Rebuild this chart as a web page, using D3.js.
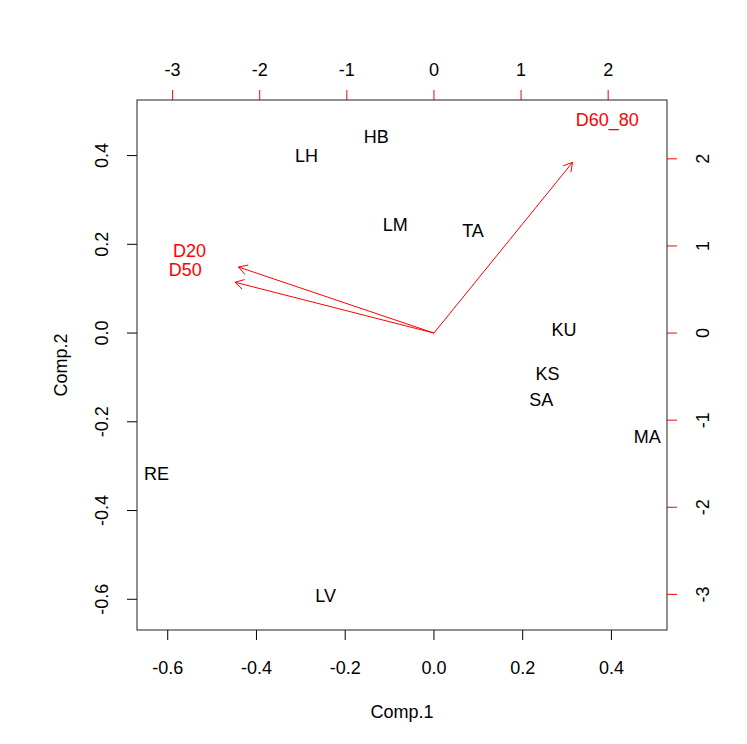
<!DOCTYPE html>
<html>
<head>
<meta charset="utf-8">
<script src="https://cdn.jsdelivr.net/npm/d3@7"></script>
<style>
  body { margin: 0; background: #fff; }
  svg text { font-family: "Liberation Sans", Arial, sans-serif; }
</style>
</head>
<body>
<div id="chart"></div>
<script>
// PCA scores (observations)
const obsNames = ['HB', 'LH', 'LM', 'TA', 'KU', 'KS', 'SA', 'MA', 'RE', 'LV'];
const comp1 = [-0.130, -0.287, -0.087, 0.088, 0.293, 0.256, 0.242, 0.481, -0.625, -0.244];
const comp2 = [0.444, 0.400, 0.244, 0.231, 0.008, -0.092, -0.150, -0.233, -0.317, -0.592];

// loadings (variables)
const varNames = ['D20', 'D50', 'D60_80'];
const load1 = [-2.805, -2.854, 1.989];
const load2 = [0.948, 0.729, 2.45];

// tick values
const scoreTicks = [-0.6, -0.4, -0.2, 0.0, 0.2, 0.4];
const loadTicks = [-3, -2, -1, 0, 1, 2];

const config = {
  width: 747, height: 744,
  margin: {top: 100, right: 80, bottom: 114, left: 137},
  fontSize: 18,
  tickLen: 10,
  arrowLen: 10
};

const svg = d3.select('#chart').append('svg')
  .attr('width', config.width)
  .attr('height', config.height);

const w = config.width - config.margin.left - config.margin.right;
const h = config.height - config.margin.top - config.margin.bottom;

// same limits for both axes, like R's biplot (unsigned range + 4% expansion)
const unsignedRange = arr => [-Math.abs(d3.min(arr)), Math.abs(d3.max(arr))];
const r1 = unsignedRange(comp1), r2 = unsignedRange(comp2);
const lim = [Math.min(r1[0], r2[0]), Math.max(r1[1], r2[1])];
const ry1 = unsignedRange(load1), ry2 = unsignedRange(load2);
const ratio = d3.max([ry1[0] / lim[0], ry1[1] / lim[1], ry2[0] / lim[0], ry2[1] / lim[1]]);
const pad = (lim[1] - lim[0]) * 0.04;
const dom = [lim[0] - pad, lim[1] + pad];

const x = d3.scaleLinear().domain(dom).range([0, w]);
const y = d3.scaleLinear().domain(dom).range([h, 0]);
const xl = d3.scaleLinear().domain(dom.map(d => d * ratio)).range([0, w]);
const yl = d3.scaleLinear().domain(dom.map(d => d * ratio)).range([h, 0]);

const chart = svg.append('g')
  .attr('transform', `translate(${config.margin.left},${config.margin.top})`);

const fmt1 = d => d.toFixed(1);
const fmt0 = d => String(d);

// bottom axis
const bottomAxis = chart.append('g').attr('transform', `translate(0,${h})`);
bottomAxis.selectAll('line').data(scoreTicks).join('line')
  .attr('x1', d => x(d)).attr('x2', d => x(d))
  .attr('y1', 0).attr('y2', config.tickLen)
  .attr('stroke', '#000');
bottomAxis.selectAll('text').data(scoreTicks).join('text')
  .attr('x', d => x(d)).attr('y', 38).attr('dy', '0.36em')
  .attr('text-anchor', 'middle').attr('font-size', config.fontSize)
  .attr('fill', '#000')
  .text(fmt1);

// left axis
const leftAxis = chart.append('g');
leftAxis.selectAll('line').data(scoreTicks).join('line')
  .attr('y1', d => y(d)).attr('y2', d => y(d))
  .attr('x1', 0).attr('x2', -config.tickLen)
  .attr('stroke', '#000');
leftAxis.selectAll('text').data(scoreTicks).join('text')
  .attr('transform', d => `translate(-35,${y(d)}) rotate(-90)`)
  .attr('dy', '0.36em')
  .attr('text-anchor', 'middle').attr('font-size', config.fontSize)
  .attr('fill', '#000')
  .text(fmt1);

// top axis (loadings)
const topAxis = chart.append('g');
topAxis.selectAll('line').data(loadTicks).join('line')
  .attr('x1', d => xl(d)).attr('x2', d => xl(d))
  .attr('y1', 0).attr('y2', -config.tickLen)
  .attr('stroke', '#ff0000');
topAxis.selectAll('text').data(loadTicks).join('text')
  .attr('x', d => xl(d)).attr('y', -30).attr('dy', '0.36em')
  .attr('text-anchor', 'middle').attr('font-size', config.fontSize)
  .attr('fill', '#000')
  .text(fmt0);

// right axis (loadings)
const rightAxis = chart.append('g').attr('transform', `translate(${w},0)`);
rightAxis.selectAll('line').data(loadTicks).join('line')
  .attr('y1', d => yl(d)).attr('y2', d => yl(d))
  .attr('x1', 0).attr('x2', config.tickLen)
  .attr('stroke', '#ff0000');
rightAxis.selectAll('text').data(loadTicks).join('text')
  .attr('transform', d => `translate(36,${yl(d)}) rotate(-90)`)
  .attr('dy', '0.36em')
  .attr('text-anchor', 'middle').attr('font-size', config.fontSize)
  .attr('fill', '#000')
  .text(fmt0);

// axis titles
chart.append('text')
  .attr('x', w / 2).attr('y', h + 82).attr('dy', '0.36em')
  .attr('text-anchor', 'middle').attr('font-size', config.fontSize)
  .text('Comp.1');
chart.append('text')
  .attr('transform', `translate(-76,${h / 2}) rotate(-90)`)
  .attr('dy', '0.36em')
  .attr('text-anchor', 'middle').attr('font-size', config.fontSize)
  .text('Comp.2');

// observation labels
chart.selectAll('.obs').data(obsNames).join('text')
  .attr('class', 'obs')
  .attr('x', (d, i) => x(comp1[i]))
  .attr('y', (d, i) => y(comp2[i]))
  .attr('dy', '0.36em')
  .attr('text-anchor', 'middle').attr('font-size', config.fontSize)
  .attr('fill', '#000')
  .text(d => d);

// loading arrows, drawn to 0.8 of the loading
const arrows = chart.append('g').attr('stroke', '#ff0000').attr('fill', 'none');
varNames.forEach((name, i) => {
  const x0 = xl(0), y0 = yl(0);
  const x1 = xl(load1[i] * 0.8), y1 = yl(load2[i] * 0.8);
  const ang = Math.atan2(y1 - y0, x1 - x0);
  const a = Math.PI / 6;
  const L = config.arrowLen;
  arrows.append('line')
    .attr('x1', x0).attr('y1', y0).attr('x2', x1).attr('y2', y1);
  arrows.append('path')
    .attr('d', `M${x1 - L * Math.cos(ang - a)},${y1 - L * Math.sin(ang - a)}L${x1},${y1}L${x1 - L * Math.cos(ang + a)},${y1 - L * Math.sin(ang + a)}`);
});

chart.selectAll('.var').data(varNames).join('text')
  .attr('class', 'var')
  .attr('x', (d, i) => xl(load1[i]))
  .attr('y', (d, i) => yl(load2[i]))
  .attr('dy', '0.36em')
  .attr('text-anchor', 'middle').attr('font-size', config.fontSize)
  .attr('fill', '#ff0000')
  .text(d => d);

// plot box
chart.append('rect')
  .attr('x', 0).attr('y', 0)
  .attr('width', w).attr('height', h)
  .attr('fill', 'none').attr('stroke', '#222').attr('stroke-width', 1);
</script>
</body>
</html>
